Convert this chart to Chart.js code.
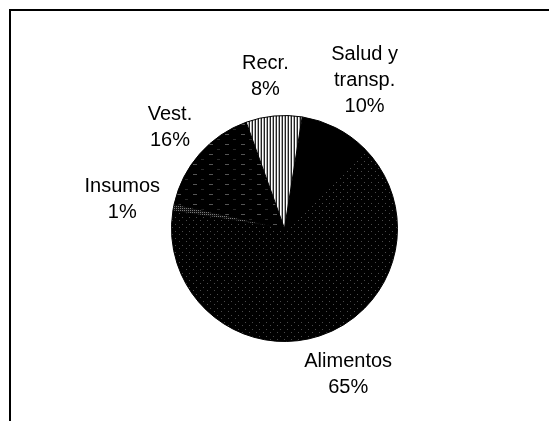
<!DOCTYPE html>
<html>
<head>
<meta charset="utf-8">
<script src="https://cdn.jsdelivr.net/npm/chart.js@4"></script>
<style>
  body { margin: 0; background: #fff; }
  canvas { display: block; }
</style>
</head>
<body>
<canvas id="gastosChart" width="549" height="421"></canvas>
<script>
// data
const categories = [['Salud y', 'transp.'], ['Alimentos'], ['Insumos'], ['Vest.'], ['Recr.']];
const shares = [10, 65, 1, 16, 8];

// small tiles to mimic the printed hatching
function makePattern(w, h, paint) {
  const c = document.createElement('canvas');
  c.width = w; c.height = h;
  const g = c.getContext('2d');
  paint(g);
  return g.createPattern(c, 'repeat');
}

const solidBlack = '#000';
const dotted = makePattern(7, 7, g => {
  g.fillStyle = '#000'; g.fillRect(0, 0, 7, 7);
  g.fillStyle = '#4a4a4a'; g.fillRect(0, 0, 1, 1); g.fillRect(4, 3, 1, 1);
});
const lightDots = makePattern(2, 2, g => {
  g.fillStyle = '#111'; g.fillRect(0, 0, 2, 2);
  g.fillStyle = '#777'; g.fillRect(0, 0, 1, 1);
});
const dashes = makePattern(16, 10, g => {
  g.fillStyle = '#000'; g.fillRect(0, 0, 16, 10);
  g.fillStyle = '#555'; g.fillRect(1, 4, 4, 1);
  g.fillStyle = '#2a2a2a'; g.fillRect(9, 9, 3, 1);
});
const stripes = makePattern(3, 1, g => {
  g.fillStyle = '#222'; g.fillRect(0, 0, 1, 1);
  g.fillStyle = '#fff'; g.fillRect(1, 0, 1, 1);
  g.fillStyle = '#aaa'; g.fillRect(2, 0, 1, 1);
});

// frame (only top and left edges show in the scan)
const framePlugin = {
  id: 'frame',
  beforeDraw(chart) {
    const ctx = chart.ctx;
    ctx.save();
    ctx.fillStyle = '#fff';
    ctx.fillRect(0, 0, chart.width, chart.height);
    ctx.strokeStyle = '#000';
    ctx.lineWidth = 2;
    ctx.beginPath();
    ctx.moveTo(10, chart.height);
    ctx.lineTo(10, 10);
    ctx.lineTo(chart.width, 10);
    ctx.stroke();
    ctx.restore();
  }
};

// labels outside the pie, name lines + percent
const outsideLabels = {
  id: 'outsideLabels',
  afterDatasetsDraw(chart) {
    const ctx = chart.ctx;
    const meta = chart.getDatasetMeta(0);
    const total = shares.reduce((a, b) => a + b, 0);
    const lineH = 26;
    ctx.save();
    ctx.font = '20px "Liberation Sans", Arial, sans-serif';
    ctx.fillStyle = '#000';
    ctx.textAlign = 'center';
    ctx.textBaseline = 'middle';
    meta.data.forEach((arc, i) => {
      const p = arc.getProps(['x', 'y', 'startAngle', 'endAngle', 'outerRadius'], true);
      const mid = (p.startAngle + p.endAngle) / 2;
      const lines = categories[i].concat([Math.round(shares[i] / total * 100) + '%']);
      const w = Math.max(...lines.map(t => ctx.measureText(t).width));
      const h = lines.length * lineH;
      const d = p.outerRadius + 14;
      const c = Math.cos(mid), s = Math.sin(mid);
      // push the box out so its near edge sits just off the rim
      const cx = p.x + c * d + Math.sign(c) * Math.sqrt(Math.abs(c)) * w / 2;
      const cy = p.y + s * d + s * h / 2;
      lines.forEach((t, k) => {
        ctx.fillText(t, cx, cy - h / 2 + lineH / 2 + k * lineH);
      });
    });
    ctx.restore();
  }
};

new Chart(document.getElementById('gastosChart'), {
  type: 'pie',
  data: {
    labels: categories.map(l => l.join(' ')),
    datasets: [{
      data: shares,
      backgroundColor: [solidBlack, dotted, lightDots, dashes, stripes],
      borderColor: '#000',
      borderWidth: 1
    }]
  },
  options: {
    responsive: false,
    animation: false,
    rotation: 9,
    layout: { padding: { left: 171, right: 151, top: 115, bottom: 79 } },
    plugins: {
      legend: { display: false },
      tooltip: { enabled: false }
    }
  },
  plugins: [framePlugin, outsideLabels]
});
</script>
</body>
</html>
